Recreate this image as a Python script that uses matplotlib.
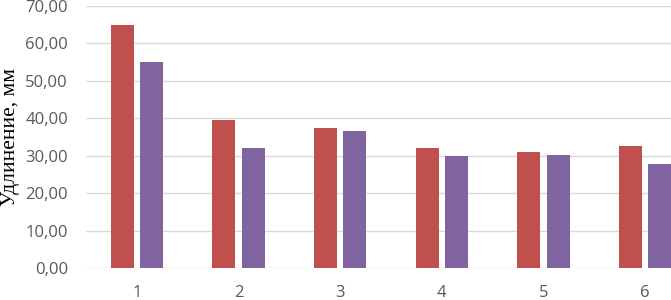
import matplotlib
matplotlib.use("Agg")
import matplotlib.pyplot as plt
import numpy as np

categories = ["1", "2", "3", "4", "5", "6"]
series_a = [65.0, 39.6, 37.3, 32.0, 30.9, 32.5]
series_b = [55.1, 32.1, 36.7, 29.8, 30.1, 27.7]
yticks = [0, 10, 20, 30, 40, 50, 60, 70]
ytick_labels = ["0,00", "10,00", "20,00", "30,00", "40,00", "50,00", "60,00", "70,00"]

W, H = 671, 300
fig = plt.figure(figsize=(W / 100, H / 100), dpi=100)
left, right, top, bottom = 86, 696, 6, 268
ax = fig.add_axes([left / W, 1 - bottom / H, (right - left) / W, (bottom - top) / H])

x = np.arange(len(categories))
bw = 0.226
off = 0.143
ax.bar(x - off, series_a, width=bw, color="#C0504D", zorder=3)
ax.bar(x + off, series_b, width=bw, color="#8064A2", zorder=3)

ax.set_xlim(-0.5, len(categories) - 0.5)
ax.set_ylim(0, 70)
ax.set_yticks(yticks)
ax.set_yticklabels(ytick_labels)
ax.set_xticks(x)
ax.set_xticklabels(categories)
ax.grid(axis="y", color="#D9D9D9", linewidth=1.0, zorder=0)
for s in ax.spines.values():
    s.set_visible(False)
ax.tick_params(axis="both", length=0, labelsize=12, labelcolor="#595959")
ax.tick_params(axis="y", pad=13)
ax.tick_params(axis="x", pad=12)
for lab in ax.get_xticklabels() + ax.get_yticklabels():
    lab.set_family("Open Sans")
ax.set_ylabel("Удлинение, мм", family="Liberation Serif", fontsize=15.5, color="black")
ax.yaxis.set_label_coords(-66 / (right - left), 0.5)

fig.savefig("out.png", dpi=100)
